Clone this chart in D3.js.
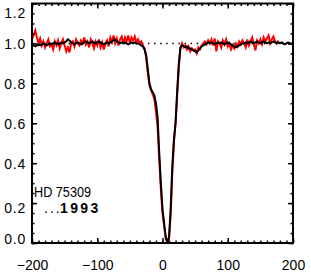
<!DOCTYPE html>
<html>
<head>
<meta charset="utf-8">
<script src="https://cdn.jsdelivr.net/npm/d3@7"></script>
<style>
  body { margin: 0; background: #fff; }
  svg { display: block; }
  .tick text { font-family: 'Liberation Sans', Arial, sans-serif; font-size: 14px; fill: #000; }
</style>
</head>
<body>
<div id="chart"></div>
<script>
// velocity grid (km/s), one sample every 2.5
const velocity = d3.range(-200, 200.01, 2.5);

// black profile, -200 .. 200
const blackFlux = [
  0.995, 0.99, 0.985, 0.99, 0.995, 0.99, 0.995, 1.0, 0.995, 0.99,
  0.995, 1.0, 0.995, 1.0, 1.005, 1.0, 0.995, 1.0, 1.005, 1.0,
  1.005, 1.01, 1.02, 1.015, 1.005, 1.0, 0.995, 1.0, 1.005, 1.0,
  0.995, 1.0, 1.005, 1.01, 1.005, 1.0, 1.005, 1.01, 1.005, 1.0,
  1.005, 1.01, 1.005, 1.0, 0.995, 1.0, 1.005, 1.0, 1.005, 1.01,
  1.015, 1.02, 1.01, 1.005, 1.0, 1.005, 1.0, 1.005, 1.0, 0.995,
  1.0, 1.005, 1.0, 1.005, 1.0, 1.0, 0.995, 0.99, 0.985, 0.97,
  0.94, 0.87, 0.8, 0.77, 0.755, 0.74, 0.7, 0.63, 0.45, 0.3,
  0.17, 0.1, 0.03, 0.005, 0.03, 0.17, 0.38, 0.52, 0.6, 0.76,
  0.9, 0.98, 0.99, 0.985, 0.98, 0.985, 0.975, 0.975, 0.97, 0.965,
  0.96, 0.955, 0.965, 0.975, 0.985, 0.99, 0.995, 1.0, 1.005, 1.0,
  1.005, 1.0, 0.995, 1.0, 1.005, 1.0, 1.005, 1.0, 0.995, 1.0,
  1.005, 1.0, 0.995, 0.99, 0.985, 0.98, 0.985, 0.99, 0.995, 1.0,
  1.0, 1.005, 1.0, 1.005, 1.01, 1.005, 1.0, 1.005, 1.01, 1.005,
  1.0, 1.005, 1.01, 1.005, 1.0, 1.005, 1.0, 1.005, 1.01, 1.005,
  1.0, 1.005, 1.0, 1.005, 1.0, 0.995, 1.0, 1.005, 1.0, 1.0,
  1.0
];

// red profile, -200 .. 177.5
const redVelocity = velocity.slice(0, 152);
const redFlux = [
  1.02, 1.04, 1.065, 1.03, 1.0, 1.025, 0.99, 1.01, 0.98, 1.0,
  1.02, 0.985, 0.995, 0.97, 1.01, 0.99, 1.015, 0.975, 1.0, 1.02,
  0.99, 0.96, 0.98, 0.955, 1.0, 1.01, 0.985, 1.02, 1.0, 0.99,
  1.015, 1.0, 1.03, 0.995, 1.01, 0.98, 1.02, 1.0, 0.975, 1.01,
  0.99, 1.02, 0.98, 1.005, 0.97, 1.0, 1.015, 0.985, 1.03, 1.01,
  1.04, 1.0, 1.025, 0.99, 1.02, 1.035, 1.0, 1.03, 1.01, 1.04,
  1.0, 1.03, 1.015, 1.035, 1.005, 1.02, 1.0, 1.01, 0.99, 0.975,
  0.93, 0.85, 0.79, 0.765, 0.745, 0.72, 0.66, 0.58, 0.42, 0.27,
  0.15, 0.085, 0.02, 0.0, 0.02, 0.14, 0.35, 0.5, 0.6, 0.74,
  0.88, 0.975, 1.0, 0.98, 0.99, 0.97, 0.985, 0.96, 0.975, 0.965,
  0.97, 0.95, 0.98, 0.97, 0.99, 1.0, 1.01, 0.995, 1.015, 1.0,
  1.02, 0.99, 1.025, 0.96, 1.01, 1.0, 0.98, 1.015, 0.995, 1.02,
  0.985, 1.0, 0.97, 0.99, 0.975, 1.0, 0.985, 1.01, 0.995, 1.015,
  1.0, 0.98, 1.02, 0.99, 1.01, 1.03, 0.995, 0.965, 1.015, 1.0,
  1.02, 0.995, 1.03, 1.01, 1.025, 1.04, 1.0, 1.02, 1.035, 1.01,
  1.0, 1.015
];

const xMajor = [-200, -100, 0, 100, 200];
const xMinor = d3.range(-200, 200.1, 10);
const yMajor = [0.0, 0.2, 0.4, 0.6, 0.8, 1.0, 1.2];
const yMinor = d3.range(0, 1.201, 0.05);
const continuum = 1.0;
const starName = 'HD 75309';
const epochDots = '...';
const epochYear = '1993';

const width = 311, height = 273;
const plot = {left: 32, right: 293, top: 3.5, bottom: 243};

const svg = d3.select('#chart').append('svg')
  .attr('width', width)
  .attr('height', height);

const xScale = d3.scaleLinear().domain([-200, 200]).range([plot.left, plot.right]);
const yScale = d3.scaleLinear().domain([0, 1.2]).range([plot.bottom, plot.top]);

svg.append('clipPath').attr('id', 'plot-clip')
  .append('rect')
  .attr('x', plot.left).attr('y', plot.top)
  .attr('width', plot.right - plot.left).attr('height', plot.bottom - plot.top);

// dotted continuum level
svg.append('line')
  .attr('x1', xScale(-200)).attr('x2', xScale(200))
  .attr('y1', yScale(continuum)).attr('y2', yScale(continuum))
  .style('stroke', '#000')
  .style('stroke-width', 1.5)
  .style('stroke-dasharray', '1.5 4.6');

const line = d3.line()
  .x((d) => xScale(d[0]))
  .y((d) => yScale(d[1]));

const lines = svg.append('g').attr('clip-path', 'url(#plot-clip)');
lines.append('path')
  .datum(redVelocity.map((v, i) => [v, redFlux[i]]))
  .attr('d', line)
  .style('fill', 'none')
  .style('stroke', '#ff0000')
  .style('stroke-width', 2);
lines.append('path')
  .datum(velocity.map((v, i) => [v, blackFlux[i]]))
  .attr('d', line)
  .style('fill', 'none')
  .style('stroke', '#000')
  .style('stroke-width', 2);

// axes, IDL style: ticks pointing inwards on all four sides
const minus = (d) => (d < 0 ? '\u2212' + Math.abs(d) : '' + d);

function addAxis(axis, transform, labelled) {
  const g = svg.append('g').attr('transform', transform).call(axis);
  g.select('.domain').remove();
  g.selectAll('.tick line').style('stroke', '#000').style('stroke-width', 1.5);
  if (!labelled) { g.selectAll('.tick text').remove(); }
  return g;
}

const bottom = addAxis(d3.axisBottom(xScale).tickValues(xMajor).tickSize(-5).tickFormat(minus),
  'translate(0,' + plot.bottom + ')', true);
bottom.selectAll('.tick text').attr('y', 27).attr('dy', null);
addAxis(d3.axisBottom(xScale).tickValues(xMinor).tickSize(-2.5), 'translate(0,' + plot.bottom + ')', false);
addAxis(d3.axisTop(xScale).tickValues(xMajor).tickSize(-5), 'translate(0,' + plot.top + ')', false);
addAxis(d3.axisTop(xScale).tickValues(xMinor).tickSize(-2.5), 'translate(0,' + plot.top + ')', false);

// left labels: the end ones are pulled inside the frame as in the original
const labelShift = (d) => (d >= 1.2 ? 8.5 : d <= 0 ? -5 : Math.abs(d - 0.2) < 1e-6 ? 4 : 0);
const left = addAxis(d3.axisLeft(yScale).tickValues(yMajor).tickSize(-5).tickFormat(d3.format('.1f')),
  'translate(' + plot.left + ',0)', true);
left.selectAll('.tick text')
  .attr('x', -6)
  .attr('y', labelShift)
  .attr('dy', '0.36em')
  .style('letter-spacing', '0.8px');
addAxis(d3.axisLeft(yScale).tickValues(yMinor).tickSize(-2.5), 'translate(' + plot.left + ',0)', false);
addAxis(d3.axisRight(yScale).tickValues(yMajor).tickSize(-5), 'translate(' + plot.right + ',0)', false);
addAxis(d3.axisRight(yScale).tickValues(yMinor).tickSize(-2.5), 'translate(' + plot.right + ',0)', false);

// frame
svg.append('rect')
  .attr('x', plot.left).attr('y', plot.top)
  .attr('width', plot.right - plot.left).attr('height', plot.bottom - plot.top)
  .style('fill', 'none')
  .style('stroke', '#000')
  .style('stroke-width', 2);

// labels
svg.append('text')
  .attr('x', 34).attr('y', 197)
  .attr('textLength', 57).attr('lengthAdjust', 'spacingAndGlyphs')
  .style('font-family', "'Liberation Sans Narrow', 'Liberation Sans', sans-serif")
  .style('font-size', '14px')
  .text(starName);
const epoch = svg.append('text')
  .attr('y', 213)
  .style('font-family', "'Liberation Sans', sans-serif")
  .style('font-size', '14px');
epoch.append('tspan')
  .attr('x', 44)
  .style('letter-spacing', '2px')
  .text(epochDots);
epoch.append('tspan')
  .attr('x', 60)
  .style('font-weight', 'bold')
  .style('letter-spacing', '2.4px')
  .text(epochYear);
</script>
</body>
</html>
